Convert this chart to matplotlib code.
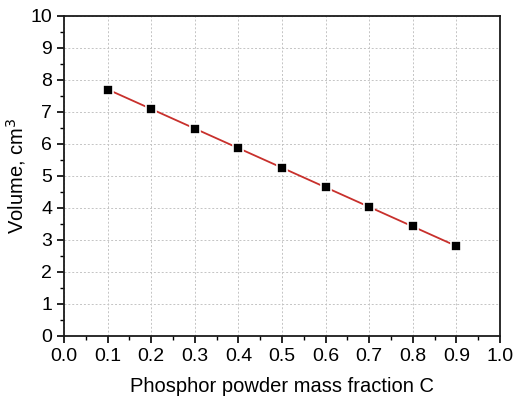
import numpy as np
import matplotlib
matplotlib.use("Agg")
import matplotlib.pyplot as plt
from matplotlib.ticker import MultipleLocator, FormatStrFormatter

# Measured volume vs phosphor mass fraction
mass_fraction = [0.1, 0.2, 0.3, 0.4, 0.5, 0.6, 0.7, 0.8, 0.9]
volume = [7.70, 7.09, 6.48, 5.87, 5.26, 4.65, 4.03, 3.42, 2.80]

plt.rcParams['font.family'] = ['Liberation Sans', 'DejaVu Sans']

fig = plt.figure(figsize=(5.16, 3.98), dpi=100)
ax = fig.add_axes([0.124, 0.156, 0.845, 0.804])

# Linear fit through the points
coef = np.polyfit(mass_fraction, volume, 1)
xfit = np.array([mass_fraction[0], mass_fraction[-1]])
ax.plot(xfit, np.polyval(coef, xfit), color='#c8302c', lw=1.3, zorder=2)

ax.plot(mass_fraction, volume, linestyle='none', marker='s', markersize=7,
        markerfacecolor='black', markeredgecolor='white', markeredgewidth=1.2, zorder=3)

ax.set_xlim(0, 1.0)
ax.set_ylim(0, 10)
ax.xaxis.set_major_locator(MultipleLocator(0.1))
ax.xaxis.set_minor_locator(MultipleLocator(0.05))
ax.yaxis.set_major_locator(MultipleLocator(1))
ax.yaxis.set_minor_locator(MultipleLocator(0.5))
ax.xaxis.set_major_formatter(FormatStrFormatter('%.1f'))

ax.tick_params(which='major', direction='out', length=5, width=1.2, labelsize=14, colors='black')
ax.tick_params(which='minor', direction='out', length=3, width=1.0)
ax.tick_params(top=False, right=False)

ax.grid(True, which='major', color='#c4c4c4', linestyle=(0, (2, 2)), linewidth=0.7)
ax.set_axisbelow(True)
for s in ax.spines.values():
    s.set_linewidth(1.3)
    s.set_color('#1a1a1a')

ax.set_xlabel('Phosphor powder mass fraction C', fontsize=14.5, labelpad=9)
ax.set_ylabel('Volume, cm$^3$', fontsize=14.5, labelpad=2)

fig.savefig('out.png', dpi=100)
